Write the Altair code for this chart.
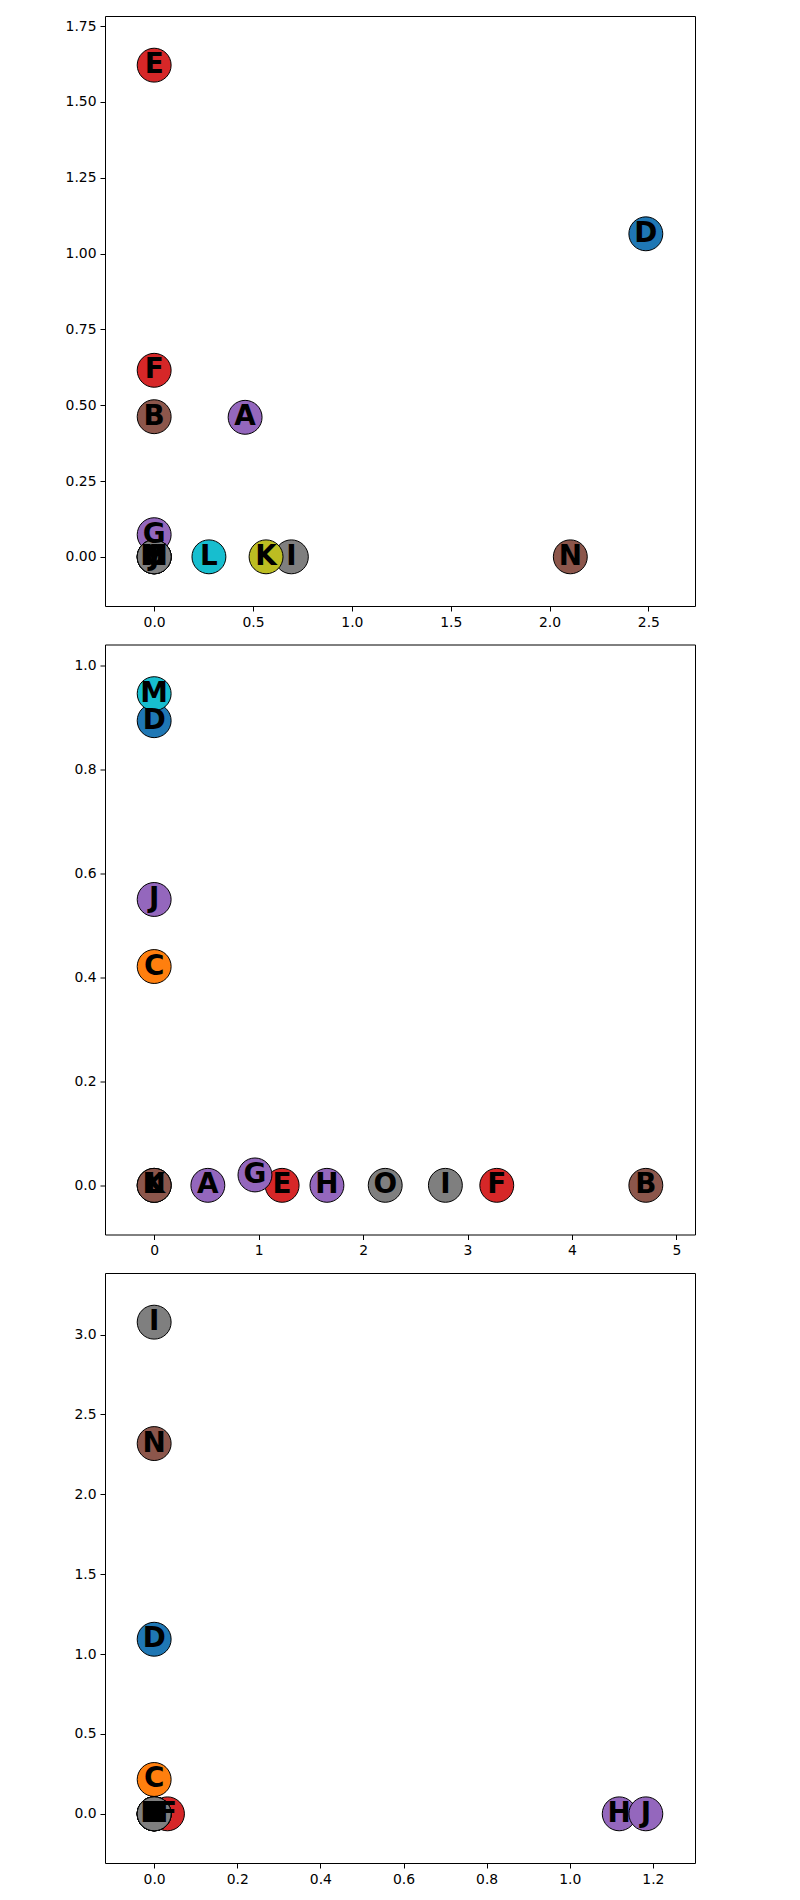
import altair as alt
import pandas as pd

letters = list("ABCDEFGHIJKLMNO")
palette = ["#9467bd", "#8c564b", "#ff7f0e", "#1f77b4", "#d62728", "#d62728",
           "#9467bd", "#9467bd", "#7f7f7f", "#9467bd", "#bcbd22", "#17becf",
           "#17becf", "#8c564b", "#7f7f7f"]

# Panel 1
p1_x = [0.46, 0.0, 0.0, 2.487, 0.0, 0.0, 0.0, 0.0, 0.694, 0.0, 0.566, 0.277, 0.0, 2.105, 0.0]
p1_y = [0.46, 0.462, 0.0, 1.065, 1.621, 0.615, 0.073, 0.0, 0.0, 0.0, 0.0, 0.0, 0.0, 0.0, 0.0]
p1_xticks = [0.0, 0.5, 1.0, 1.5, 2.0, 2.5]
p1_yticks = [0.0, 0.25, 0.5, 0.75, 1.0, 1.25, 1.5, 1.75]

# Panel 2
p2_x = [0.514, 4.707, 0.0, 0.0, 1.225, 3.28, 0.965, 1.654, 2.788, 0.0, 0.0, 0.0, 0.0, 0.0, 2.212]
p2_y = [0.0, 0.0, 0.421, 0.894, 0.0, 0.0, 0.02, 0.0, 0.0, 0.55, 0.0, 0.0, 0.946, 0.0, 0.0]
p2_xticks = [0, 1, 2, 3, 4, 5]
p2_yticks = [0.0, 0.2, 0.4, 0.6, 0.8, 1.0]

# Panel 3
p3_x = [0.0, 0.0, 0.0, 0.0, 0.0, 0.032, 0.0, 1.119, 0.0, 1.183, 0.0, 0.0, 0.0, 0.0, 0.0]
p3_y = [0.0, 0.0, 0.215, 1.093, 0.0, 0.0, 0.0, 0.0, 3.078, 0.0, 0.0, 0.0, 0.0, 2.318, 0.0]
p3_xticks = [0.0, 0.2, 0.4, 0.6, 0.8, 1.0, 1.2]
p3_yticks = [0.0, 0.5, 1.0, 1.5, 2.0, 2.5, 3.0]


def padded(vals):
    lo, hi = min(vals), max(vals)
    r = hi - lo
    return [lo - 0.1 * r, hi + 0.1 * r]


def panel(xs, ys, xticks, yticks, xfmt, yfmt):
    df = pd.DataFrame({"letter": letters, "x": xs, "y": ys})
    base = alt.Chart(df).encode(
        x=alt.X("x:Q", scale=alt.Scale(domain=padded(xs), nice=False, zero=False),
                axis=alt.Axis(values=xticks, format=xfmt, title=None)),
        y=alt.Y("y:Q", scale=alt.Scale(domain=padded(ys), nice=False, zero=False),
                axis=alt.Axis(values=yticks, format=yfmt, title=None)),
    )
    circles = base.mark_circle(size=1150, stroke="black", strokeWidth=1, opacity=1).encode(
        color=alt.Color("letter:N", scale=alt.Scale(domain=letters, range=palette), legend=None)
    )
    texts = base.mark_text(font="DejaVu Sans", fontWeight="bold", fontSize=27.8,
                           align="center", baseline="middle", color="black").encode(
        text="letter:N"
    )
    return alt.layer(circles, texts).properties(width=590, height=590)


chart = alt.vconcat(
    panel(p1_x, p1_y, p1_xticks, p1_yticks, ".1f", ".2f"),
    panel(p2_x, p2_y, p2_xticks, p2_yticks, "d", ".1f"),
    panel(p3_x, p3_y, p3_xticks, p3_yticks, ".1f", ".1f"),
    spacing=38.5,
    bounds="flush",
).properties(
    padding={"left": 64, "top": 15, "right": 10, "bottom": 10},
    background="white",
).configure_view(
    stroke="black", strokeWidth=1
).configure_axis(
    domain=False, grid=False, tickColor="black", tickSize=5, tickWidth=1,
    labelColor="black", labelFont="DejaVu Sans", labelFontSize=13.9,
    labelPadding=4, labelFlush=False
)

chart.save("out.html", embed_options={"renderer": "svg", "actions": False})
